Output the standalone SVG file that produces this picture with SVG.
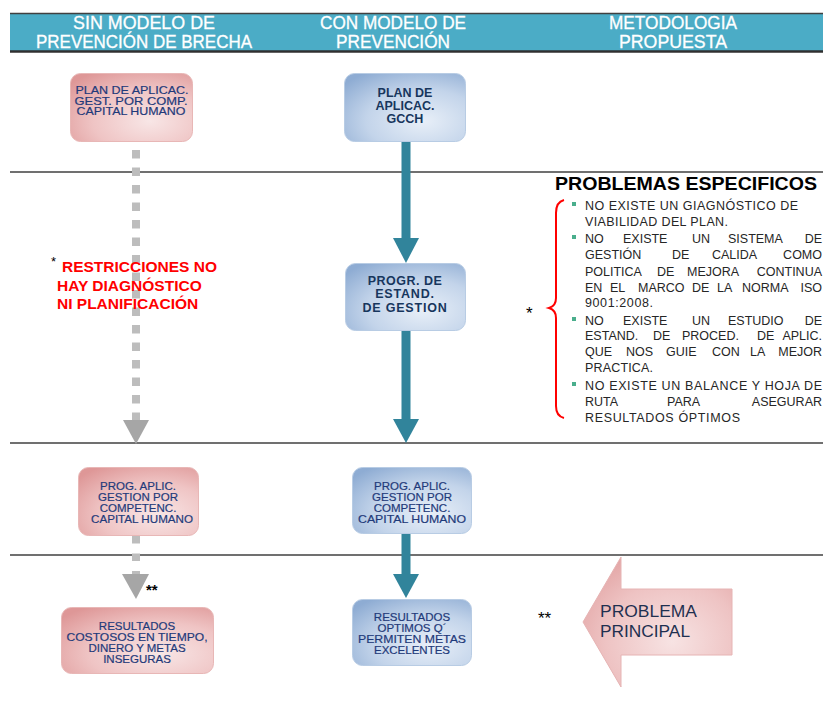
<svg xmlns="http://www.w3.org/2000/svg" width="823" height="704" viewBox="0 0 823 704">
<defs>
<radialGradient id="gPink" cx="0.65" cy="0.7" r="0.85">
<stop offset="0" stop-color="#F8E6E6"/>
<stop offset="0.55" stop-color="#EFC4C4"/>
<stop offset="1" stop-color="#DE9797"/>
</radialGradient>
<radialGradient id="gBlue" cx="0.65" cy="0.7" r="0.85">
<stop offset="0" stop-color="#E8EFF8"/>
<stop offset="0.55" stop-color="#C3D4EA"/>
<stop offset="1" stop-color="#8EACD3"/>
</radialGradient>
<radialGradient id="gArrow" cx="0.6" cy="0.65" r="0.75">
<stop offset="0" stop-color="#F7E3E3"/>
<stop offset="0.6" stop-color="#EEC3C3"/>
<stop offset="1" stop-color="#E2A3A3"/>
</radialGradient>
</defs>
<style>
.hdr{font-family:"Liberation Sans",Arial,sans-serif;font-size:18px;fill:#FFFFFF;text-anchor:middle;stroke:#FFFFFF;stroke-width:0.3}
.pink{fill:url(#gPink);stroke:#E8B7B6;stroke-width:1}
.blue{fill:url(#gBlue);stroke:#B8CCE4;stroke-width:1}
.nt{font-family:"Liberation Sans",Arial,sans-serif;font-size:11.5px;fill:#1F3A7A;text-anchor:middle;stroke:#1F3A7A;stroke-width:0.2}
.nb{font-family:"Liberation Sans",Arial,sans-serif;font-size:12.5px;font-weight:bold;fill:#17365D;text-anchor:middle}
.sep{stroke:#404040;stroke-width:1.5}
.teal{stroke:#31849B;stroke-width:9;fill:none}
.tealh{fill:#31849B}
.gray{stroke:#BDBDBD;stroke-width:8;fill:none}
.grayh{fill:#A6A6A6}
.bt{font-family:"Liberation Sans",Arial,sans-serif;font-size:12.5px;fill:#262626}
.e{text-anchor:end}
.bul{fill:#4AAE8C}
.red{font-family:"Liberation Sans",Arial,sans-serif;font-size:15.5px;font-weight:bold;fill:#FF0000}
.star{font-family:"Liberation Sans",Arial,sans-serif;fill:#000000}
</style>
<rect width="823" height="704" fill="#FFFFFF"/>

<g id="header">
<rect x="10" y="13" width="813" height="39" fill="#4BACC6"/>
<line x1="10" y1="13.5" x2="823" y2="13.5" stroke="#404040" stroke-width="1.5"/>
<line x1="10" y1="51.5" x2="823" y2="51.5" stroke="#303030" stroke-width="2.5"/>
<text class="hdr" x="144" y="29" textLength="142" lengthAdjust="spacingAndGlyphs">SIN  MODELO DE</text>
<text class="hdr" x="144" y="48" textLength="216" lengthAdjust="spacingAndGlyphs">PREVENCIÓN DE BRECHA</text>
<text class="hdr" x="393" y="29" textLength="146" lengthAdjust="spacingAndGlyphs">CON MODELO DE</text>
<text class="hdr" x="393" y="48" textLength="114" lengthAdjust="spacingAndGlyphs">PREVENCIÓN</text>
<text class="hdr" x="673" y="29" textLength="128" lengthAdjust="spacingAndGlyphs">METODOLOGIA</text>
<text class="hdr" x="673" y="48" textLength="108" lengthAdjust="spacingAndGlyphs">PROPUESTA</text>
</g>

<g id="separators">
<line class="sep" x1="10" y1="172" x2="823" y2="172"/>
<line class="sep" x1="10" y1="443" x2="823" y2="443"/>
<line class="sep" x1="10" y1="555" x2="823" y2="555"/>
</g>

<g id="connectors">
<line class="gray" x1="136" y1="150" x2="136" y2="420" stroke-dasharray="8.5 9"/>
<polygon class="grayh" points="123,420 149,420 136,444"/>
<line class="gray" x1="136" y1="536" x2="136" y2="574" stroke-dasharray="7.5 10"/>
<polygon class="grayh" points="122,574 149,574 136,599"/>
<line class="teal" x1="406" y1="141" x2="406" y2="240"/>
<polygon class="tealh" points="393,238 419,238 406,263"/>
<line class="teal" x1="406" y1="330" x2="406" y2="420"/>
<polygon class="tealh" points="393,419 419,419 406,443"/>
<line class="teal" x1="406" y1="534" x2="406" y2="575"/>
<polygon class="tealh" points="393,574 419,574 406,598"/>
</g>

<g id="n-plan-sin">
<rect class="pink" x="70.5" y="73.5" width="122" height="68" rx="10"/>
<text class="nt" x="132" y="94" font-size="9.8" textLength="113" lengthAdjust="spacingAndGlyphs">PLAN DE APLICAC.</text>
<text class="nt" x="131" y="104.5" font-size="9.8" textLength="113" lengthAdjust="spacingAndGlyphs">GEST. POR COMP.</text>
<text class="nt" x="131" y="115" font-size="9.8" textLength="109" lengthAdjust="spacingAndGlyphs">CAPITAL HUMANO</text>
</g>

<g id="n-plan-con">
<rect class="blue" x="344.5" y="73.5" width="121" height="68" rx="10"/>
<text class="nb" x="405" y="97">PLAN DE</text>
<text class="nb" x="405" y="110">APLICAC.</text>
<text class="nb" x="405" y="123">GCCH</text>
</g>

<g id="n-progr-estand">
<rect class="blue" x="345.5" y="263.5" width="120" height="67" rx="10"/>
<text class="nb" x="405" y="284.5" letter-spacing="0.5">PROGR. DE</text>
<text class="nb" x="405" y="298" letter-spacing="0.8">ESTAND.</text>
<text class="nb" x="405" y="311.5" letter-spacing="0.8">DE GESTION</text>
</g>

<g id="restricciones">
<text class="star" x="51" y="266" font-size="13">*</text>
<text class="red" x="62" y="272" textLength="155" lengthAdjust="spacingAndGlyphs">RESTRICCIONES NO</text>
<text class="red" x="57" y="291">HAY DIAGNÓSTICO</text>
<text class="red" x="57" y="309">NI  PLANIFICACIÓN</text>
</g>

<g id="problemas-especificos">
<text x="555" y="190" font-family="Liberation Sans, Arial, sans-serif" font-size="19" font-weight="bold" fill="#000000" textLength="262" lengthAdjust="spacingAndGlyphs">PROBLEMAS ESPECIFICOS</text>
<path d="M564,200 Q556,202 556,213 L556,298 Q556,306 549,308 Q556,310 556,318 L556,406 Q556,416 564,418" fill="none" stroke="#FF0000" stroke-width="2"/>
<text class="star" x="526" y="319" font-size="17">*</text>
<rect class="bul" x="572" y="202" width="4" height="4"/>
<rect class="bul" x="572" y="235" width="4" height="4"/>
<rect class="bul" x="572" y="317" width="4" height="4"/>
<rect class="bul" x="572" y="382" width="4" height="4"/>
<text class="bt" x="585" y="210" textLength="213" lengthAdjust="spacing">NO EXISTE UN GIAGNÓSTICO DE</text>
<text class="bt" x="585" y="226" textLength="143" lengthAdjust="spacing">VIABILIDAD DEL PLAN.</text>
<text class="bt" y="243"><tspan x="585">NO</tspan><tspan x="623">EXISTE</tspan><tspan x="692">UN</tspan><tspan x="728">SISTEMA</tspan></text>
<text class="bt e" x="822" y="243">DE</text>
<text class="bt" y="259"><tspan x="585">GESTIÓN</tspan><tspan x="672">DE</tspan><tspan x="712">CALIDA</tspan></text>
<text class="bt e" x="822" y="259">COMO</text>
<text class="bt" y="276"><tspan x="585">POLITICA</tspan><tspan x="657">DE</tspan><tspan x="687">MEJORA</tspan></text>
<text class="bt e" x="822" y="276">CONTINUA</text>
<text class="bt" y="292"><tspan x="585">EN</tspan><tspan x="610">EL</tspan><tspan x="638">MARCO</tspan><tspan x="692">DE</tspan><tspan x="717">LA</tspan><tspan x="742">NORMA</tspan></text>
<text class="bt e" x="822" y="292">ISO</text>
<text class="bt" x="585" y="307" textLength="68" lengthAdjust="spacing">9001:2008.</text>
<text class="bt" y="325"><tspan x="585">NO</tspan><tspan x="623">EXISTE</tspan><tspan x="692">UN</tspan><tspan x="728">ESTUDIO</tspan></text>
<text class="bt e" x="822" y="325">DE</text>
<text class="bt" y="340"><tspan x="585">ESTAND.</tspan><tspan x="653">DE</tspan><tspan x="682">PROCED.</tspan><tspan x="757">DE</tspan></text>
<text class="bt e" x="822" y="340">APLIC.</text>
<text class="bt" y="356"><tspan x="585">QUE</tspan><tspan x="626">NOS</tspan><tspan x="666">GUIE</tspan><tspan x="712">CON</tspan><tspan x="750">LA</tspan></text>
<text class="bt e" x="822" y="356">MEJOR</text>
<text class="bt" x="585" y="372" textLength="68" lengthAdjust="spacing">PRACTICA.</text>
<text class="bt" x="585" y="390" textLength="237" lengthAdjust="spacing">NO EXISTE UN BALANCE Y HOJA DE</text>
<text class="bt" y="406"><tspan x="585">RUTA</tspan><tspan x="667">PARA</tspan></text>
<text class="bt e" x="822" y="406">ASEGURAR</text>
<text class="bt" x="585" y="422" textLength="155" lengthAdjust="spacing">RESULTADOS ÓPTIMOS</text>
</g>

<g id="n-prog-sin">
<rect class="pink" x="78.5" y="467.5" width="120" height="68" rx="10"/>
<text class="nt" x="138" y="490">PROG. APLIC.</text>
<text class="nt" x="138" y="500.5">GESTION POR</text>
<text class="nt" x="138" y="511.5">COMPETENC.</text>
<text class="nt" x="142" y="522.5" textLength="102" lengthAdjust="spacingAndGlyphs">CAPITAL HUMANO</text>
</g>

<g id="n-prog-con">
<rect class="blue" x="352.5" y="467.5" width="119" height="66" rx="10"/>
<text class="nt" x="412" y="490">PROG. APLIC.</text>
<text class="nt" x="412" y="500.5">GESTION POR</text>
<text class="nt" x="412" y="511.5">COMPETENC.</text>
<text class="nt" x="412" y="522.5" textLength="108" lengthAdjust="spacingAndGlyphs">CAPITAL HUMANO</text>
</g>

<text class="star" x="146" y="595" font-size="15" font-weight="bold">**</text>

<g id="n-result-sin">
<rect class="pink" x="61.5" y="607.5" width="152" height="66" rx="10"/>
<text class="nt" x="137" y="630">RESULTADOS</text>
<text class="nt" x="137" y="641" textLength="141" lengthAdjust="spacingAndGlyphs">COSTOSOS EN TIEMPO,</text>
<text class="nt" x="137" y="652">DINERO Y METAS</text>
<text class="nt" x="137" y="663">INSEGURAS</text>
</g>

<g id="n-result-con">
<rect class="blue" x="352.5" y="599.5" width="119" height="66" rx="10"/>
<text class="nt" x="412" y="621">RESULTADOS</text>
<text class="nt" x="412" y="632">OPTIMOS Q´</text>
<text class="nt" x="412" y="643" textLength="108" lengthAdjust="spacingAndGlyphs">PERMITEN METAS</text>
<text class="nt" x="412" y="654">EXCELENTES</text>
</g>

<g id="problema-principal">
<text class="star" x="538" y="624" font-size="17">**</text>
<polygon points="583,622 621,557 621,589 732,589 732,655 621,655 621,687" fill="url(#gArrow)" stroke="#E6B4B4" stroke-width="1"/>
<text x="600" y="617" font-family="Liberation Sans, Arial, sans-serif" font-size="16.5" fill="#1F3050" textLength="97" lengthAdjust="spacingAndGlyphs">PROBLEMA</text>
<text x="600" y="637" font-family="Liberation Sans, Arial, sans-serif" font-size="16.5" fill="#1F3050" textLength="90" lengthAdjust="spacingAndGlyphs">PRINCIPAL</text>
</g>
</svg>
